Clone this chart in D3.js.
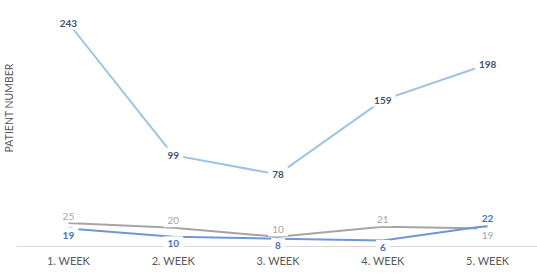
<!DOCTYPE html>
<html>
<head>
<meta charset="utf-8">
<script src="https://cdn.jsdelivr.net/npm/d3@7"></script>
<style>
  body { margin: 0; background: #fff; }
  svg { font-family: Lato, "Open Sans", sans-serif; }
</style>
</head>
<body>
<svg id="chart"></svg>
<script>
const weeks = ["1. WEEK", "2. WEEK", "3. WEEK", "4. WEEK", "5. WEEK"];
const totalPatients = [243, 99, 78, 159, 198];
const grayPatients = [25, 20, 10, 21, 19];
const bluePatients = [19, 10, 8, 6, 22];

const margin = { top: 23, right: -3, bottom: 27, left: 16 };
const width = 537 - margin.left - margin.right;
const height = 273 - margin.top - margin.bottom;

const svg = d3.select("#chart")
    .attr("width", 537)
    .attr("height", 273)
    .append("g")
    .attr("transform", "translate(" + margin.left + "," + margin.top + ")");

const xScale = d3.scaleBand().domain(weeks).range([0, width]);
const yScale = d3.scaleLinear().domain([0, 243]).range([height, 0]);

const xAxis = d3.axisBottom(xScale).tickSize(0).tickPadding(11);

const xPos = d => xScale(d) + xScale.bandwidth() / 2;

svg.append("g")
    .attr("class", "x-axis")
    .attr("transform", "translate(0," + height + ")")
    .call(xAxis)
    .call(g => g.select(".domain").attr("stroke", "#d9d9d9"))
    .call(g => g.selectAll("text")
        .attr("fill", "#595959")
        .attr("font-size", "11px")
        .attr("font-family", "Lato, sans-serif"));

svg.append("text")
    .attr("class", "y-axis-label")
    .attr("text-anchor", "middle")
    .attr("transform", "translate(-3," + 85 + ") rotate(-90)")
    .attr("fill", "#595959")
    .attr("font-size", "10.5px")
    .text("PATIENT NUMBER");

const line = d3.line()
    .x((d, i) => xPos(weeks[i]))
    .y(d => yScale(d));

const series = [
    { name: "gray", values: grayPatients, stroke: "#a5a5a5", label: "#a5a5a5", weight: 400 },
    { name: "blue", values: bluePatients, stroke: "#6f97d6", label: "#4472c4", weight: 700 },
    { name: "total", values: totalPatients, stroke: "#9dc3e6", label: "#44546a", weight: 700 }
];

series.forEach(s => {
    svg.append("path")
        .datum(s.values)
        .attr("class", "line " + s.name)
        .attr("d", line)
        .style("stroke", s.stroke)
        .style("stroke-width", 2)
        .style("fill", "none");
});

// label offsets: top series labels sit on the point, small series above/below
function labelDy(s, i) {
    if (s.name === "total") return 0;
    const other = s.name === "gray" ? bluePatients[i] : grayPatients[i];
    return s.values[i] > other ? -7 : 7;
}

series.forEach(s => {
    const labels = svg.selectAll(".label." + s.name)
        .data(s.values)
        .enter().append("g")
        .attr("class", "label " + s.name)
        .attr("transform", (d, i) =>
            "translate(" + xPos(weeks[i]) + "," + (yScale(d) + labelDy(s, i)) + ")");

    labels.append("text")
        .attr("text-anchor", "middle")
        .attr("dy", "0.35em")
        .attr("fill", s.label)
        .attr("font-size", "10px")
        .attr("font-weight", s.weight)
        .text(d => d);

    labels.each(function() {
        const g = d3.select(this);
        const bb = g.select("text").node().getBBox();
        g.insert("rect", "text")
            .attr("x", bb.x - 4)
            .attr("y", bb.y - 1)
            .attr("width", bb.width + 8)
            .attr("height", bb.height + 2)
            .attr("fill", "#fff");
    });
});
</script>
</body>
</html>
